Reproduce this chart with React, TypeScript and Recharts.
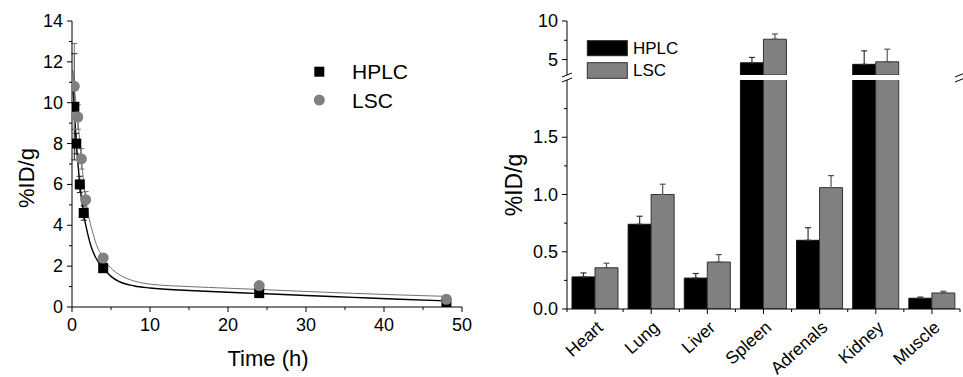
import React from 'react';
import { ComposedChart, BarChart, Bar, Line, Scatter, XAxis, YAxis, ErrorBar, Legend } from 'recharts';

const FONT = '"Liberation Sans", Arial, Helvetica, sans-serif';

// ---------- Left panel: blood clearance ----------
const hplcTime = [0.3, 0.55, 1, 1.5, 4, 24, 48];
const hplcValue = [9.8, 8.0, 6.0, 4.6, 1.9, 0.68, 0.15];
const hplcError = [2.6, 0.5, 0.4, 0.35, 0.2, 0.1, 0.08];
const lscTime = [0.3, 0.75, 1.2, 1.75, 4, 24, 48];
const lscValue = [10.8, 9.3, 7.25, 5.25, 2.4, 1.05, 0.38];
const lscError = [2.1, 0.6, 0.5, 0.4, 0.2, 0.12, 0.1];

const hplcFitTime = [0.1, 0.25, 0.5, 0.75, 1, 1.5, 2, 2.5, 3, 4, 5, 6, 8, 10, 15, 20, 24, 30, 36, 42, 48];
const hplcFitValue = [10.9, 10.0, 8.3, 7.1, 6.0, 4.55, 3.6, 2.9, 2.45, 1.9, 1.5, 1.25, 1.03, 0.93, 0.81, 0.72, 0.66, 0.56, 0.47, 0.38, 0.3];
const lscFitTime = [0.1, 0.3, 0.5, 0.75, 1, 1.2, 1.5, 1.75, 2, 2.7, 3, 4, 5, 6, 8, 10, 15, 20, 24, 30, 36, 42, 48];
const lscFitValue = [11.6, 10.8, 10.0, 9.2, 8.0, 7.25, 6.1, 5.3, 4.7, 3.6, 3.2, 2.4, 1.9, 1.6, 1.27, 1.12, 1.0, 0.92, 0.86, 0.76, 0.67, 0.59, 0.52];

const timeTicks = [0, 5, 10, 15, 20, 25, 30, 35, 40, 45, 50];
const pctTicks = [0, 1, 2, 3, 4, 5, 6, 7, 8, 9, 10, 11, 12, 13, 14];

// ---------- Right panel: biodistribution ----------
const organs = ['Heart', 'Lung', 'Liver', 'Spleen', 'Adrenals', 'Kidney', 'Muscle'];
const hplcOrgan = [0.28, 0.74, 0.27, 4.58, 0.6, 4.38, 0.094];
const hplcOrganErr = [0.035, 0.07, 0.04, 0.7, 0.11, 1.75, 0.01];
const lscOrgan = [0.36, 1.0, 0.41, 7.64, 1.06, 4.71, 0.14];
const lscOrganErr = [0.04, 0.09, 0.065, 0.68, 0.105, 1.64, 0.015];
const lowerTicks = [0, 0.25, 0.5, 0.75, 1, 1.25, 1.5, 1.75];
const upperTicks = [5, 7.5, 10];
const LOWER_MAX = 2;
const UPPER_MIN = 3;
const UPPER_MAX = 10;

const hplcPoints = hplcTime.map((t, i) => ({ t, v: hplcValue[i], e: hplcError[i] }));
const lscPoints = lscTime.map((t, i) => ({ t, v: lscValue[i], e: lscError[i] }));
const hplcFit = hplcFitTime.map((t, i) => ({ t, v: hplcFitValue[i] }));
const lscFit = lscFitTime.map((t, i) => ({ t, v: lscFitValue[i] }));

const lowerRows = organs.map((organ, i) => ({
  organ,
  hplc: hplcOrgan[i],
  lsc: lscOrgan[i],
  hplcErr: hplcOrgan[i] > LOWER_MAX ? undefined : [0, hplcOrganErr[i]],
  lscErr: lscOrgan[i] > LOWER_MAX ? undefined : [0, lscOrganErr[i]],
}));
const upperRows = organs.map((organ, i) => ({
  organ,
  hplc: hplcOrgan[i] > UPPER_MIN ? hplcOrgan[i] : null,
  lsc: lscOrgan[i] > UPPER_MIN ? lscOrgan[i] : null,
  hplcErr: hplcOrgan[i] > UPPER_MIN ? [0, hplcOrganErr[i]] : undefined,
  lscErr: lscOrgan[i] > UPPER_MIN ? [0, lscOrganErr[i]] : undefined,
}));

// layout constants (right panel)
const R_LEFT = 480;
const R_W = 483;
const R_PLOT_L = 87;
const R_PLOT_R = 480;
const BAND = (R_PLOT_R - R_PLOT_L) / organs.length;

type TickOpts = {
  side: 'bottom' | 'top' | 'left' | 'right';
  isMajor: (v: number) => boolean;
  fmt?: (v: number) => string;
  fontSize?: number;
  gap?: number;
};

const makeTick = (o: TickOpts) => (props: any) => {
  const { x, y, payload } = props;
  const v = payload.value as number;
  const major = o.isMajor(v);
  const L = major ? 5 : 3;
  let line: number[] = [];
  let label: any = null;
  if (o.side === 'bottom') {
    line = [x, y, x, y + L];
    if (major && o.fmt)
      label = (
        <text x={x} y={y + (o.gap || 18)} textAnchor="middle" dominantBaseline="central" fontSize={o.fontSize} fontFamily={FONT} fill="#000">
          {o.fmt(v)}
        </text>
      );
  } else if (o.side === 'top') {
    line = [x, y, x, y + L];
  } else if (o.side === 'left') {
    line = [x - L, y, x, y];
    if (major && o.fmt)
      label = (
        <text x={x - (o.gap || 9)} y={y} textAnchor="end" dominantBaseline="central" fontSize={o.fontSize} fontFamily={FONT} fill="#000">
          {o.fmt(v)}
        </text>
      );
  } else {
    line = [x - L, y, x, y];
  }
  return (
    <g>
      <line x1={line[0]} y1={line[1]} x2={line[2]} y2={line[3]} stroke="#000" strokeWidth={1} />
      {label}
    </g>
  );
};

const OrganTick = (props: any) => {
  const { x, y, payload, index, top } = props;
  const last = index === organs.length - 1;
  return (
    <g>
      <line x1={x} y1={y} x2={x} y2={y + 5} stroke="#000" />
      <line x1={x - BAND / 2} y1={y} x2={x - BAND / 2} y2={y + 3} stroke="#000" />
      {last && <line x1={x + BAND / 2} y1={y} x2={x + BAND / 2} y2={y + 3} stroke="#000" />}
      {!top && (
        <text
          transform={`translate(${x + 9},${y + 20}) rotate(-42)`}
          textAnchor="end"
          fontSize={17.5}
          fontFamily={FONT}
          fill="#000"
        >
          {payload.value}
        </text>
      )}
    </g>
  );
};

const isEven = (v: number) => v % 2 === 0;
const isTen = (v: number) => v % 10 === 0;
const isHalf = (v: number) => Math.abs(v * 2 - Math.round(v * 2)) < 1e-9;
const isFive = (v: number) => v % 5 === 0;

const LeftYTitle = () => (
  <text transform="translate(26,178) rotate(-90)" textAnchor="middle" dominantBaseline="central" fontSize={22} fontFamily={FONT} fill="#000">
    %ID/g
  </text>
);
const TimeTitle = () => (
  <text x={268} y={366} textAnchor="middle" fontSize={22} fontFamily={FONT} fill="#000">
    Time (h)
  </text>
);
const RightYTitle = () => (
  <text transform="translate(34,185) rotate(-90)" textAnchor="middle" dominantBaseline="central" fontSize={23} fontFamily={FONT} fill="#000">
    %ID/g
  </text>
);

const LeftLegend = () => (
  <svg width={130} height={56} style={{ display: 'block' }}>
    <rect x={6.3} y={8.7} width={10} height={10} fill="#000" />
    <circle cx={11.3} cy={42} r={5.5} fill="#808080" />
    <text x={44} y={13.7} dominantBaseline="central" fontSize={21} fontFamily={FONT} fill="#000">HPLC</text>
    <text x={44} y={42} dominantBaseline="central" fontSize={21} fontFamily={FONT} fill="#000">LSC</text>
  </svg>
);

const RightLegend = () => (
  <svg width={110} height={46} style={{ display: 'block' }}>
    <rect x={7.3} y={4.7} width={40} height={15} fill="#000" stroke="#222" />
    <rect x={7.3} y={26.7} width={40} height={15.6} fill="#808080" stroke="#333" />
    <text x={53} y={12.3} dominantBaseline="central" fontSize={17} fontFamily={FONT} fill="#000">HPLC</text>
    <text x={53} y={34.5} dominantBaseline="central" fontSize={17} fontFamily={FONT} fill="#000">LSC</text>
  </svg>
);

const squareShape = (p: any) => <rect x={p.cx - 5} y={p.cy - 5} width={10} height={10} fill="#000" />;
const circleShape = (p: any) => <circle cx={p.cx} cy={p.cy} r={5.5} fill="#808080" />;

export default function App() {
  return (
    <div style={{ position: 'fixed', left: 0, top: 0, width: 963, height: 377, background: '#fff', fontFamily: FONT }}>
      {/* Left panel */}
      <div style={{ position: 'absolute', left: 0, top: 0 }}>
        <ComposedChart width={480} height={377} margin={{ top: 21, right: 18, bottom: 20, left: 12 }}>
          <XAxis
            type="number"
            dataKey="t"
            domain={[0, 50]}
            ticks={timeTicks}
            interval={0}
            allowDataOverflow
            tickSize={0}
            tickMargin={0}
            tickLine={false}
            height={50}
            axisLine={{ stroke: '#000' }}
            tick={makeTick({ side: 'bottom', isMajor: isTen, fmt: (v) => String(v), fontSize: 18, gap: 18 })}
            label={<TimeTitle />}
          />
          <XAxis
            xAxisId="top"
            orientation="top"
            type="number"
            dataKey="t"
            domain={[0, 50]}
            ticks={timeTicks}
            interval={0}
            allowDataOverflow
            tickSize={0}
            tickMargin={0}
            tickLine={false}
            height={0}
            axisLine={{ stroke: '#000' }}
            tick={makeTick({ side: 'top', isMajor: isTen })}
          />
          <YAxis
            type="number"
            domain={[0, 14]}
            ticks={pctTicks}
            interval={0}
            allowDataOverflow
            tickSize={0}
            tickMargin={0}
            tickLine={false}
            width={60}
            axisLine={{ stroke: '#000' }}
            tick={makeTick({ side: 'left', isMajor: isEven, fmt: (v) => String(v), fontSize: 18, gap: 9 })}
            label={<LeftYTitle />}
          />
          <YAxis
            yAxisId="right"
            orientation="right"
            type="number"
            domain={[0, 14]}
            ticks={pctTicks}
            interval={0}
            allowDataOverflow
            tickSize={0}
            tickMargin={0}
            tickLine={false}
            width={0}
            axisLine={{ stroke: '#000' }}
            tick={makeTick({ side: 'right', isMajor: isEven })}
          />
          <Line data={lscFit} dataKey="v" type="monotone" stroke="#707070" strokeWidth={1} dot={false} isAnimationActive={false} />
          <Line data={hplcFit} dataKey="v" type="monotone" stroke="#000" strokeWidth={1.4} dot={false} isAnimationActive={false} />
          <Scatter data={hplcPoints} dataKey="v" shape={squareShape} isAnimationActive={false}>
            <ErrorBar dataKey="e" direction="y" width={3} stroke="#222" strokeWidth={1} />
          </Scatter>
          <Scatter data={lscPoints} dataKey="v" shape={circleShape} isAnimationActive={false}>
            <ErrorBar dataKey="e" direction="y" width={3} stroke="#777" strokeWidth={1} />
          </Scatter>
          <Legend
            layout="vertical"
            align="center"
            verticalAlign="middle"
            content={() => <LeftLegend />}
            wrapperStyle={{ position: 'absolute', left: 308, top: 58, width: 130, height: 56 }}
          />
        </ComposedChart>
      </div>

      {/* Right panel, upper segment (3 - 10) */}
      <div style={{ position: 'absolute', left: R_LEFT, top: 0 }}>
        <BarChart width={R_W} height={80} data={upperRows} margin={{ top: 21, right: R_W - R_PLOT_R, bottom: 5, left: R_PLOT_L - 60 }} barSize={23} barGap={0}>
          <XAxis
            dataKey="organ"
            orientation="top"
            interval={0}
            tickSize={0}
            tickMargin={0}
            tickLine={false}
            height={0}
            axisLine={{ stroke: '#000' }}
            tick={(p: any) => <OrganTick {...p} top />}
          />
          <YAxis
            type="number"
            domain={[UPPER_MIN, UPPER_MAX]}
            ticks={upperTicks}
            interval={0}
            allowDataOverflow
            tickSize={0}
            tickMargin={0}
            tickLine={false}
            width={60}
            axisLine={{ stroke: '#000' }}
            tick={makeTick({ side: 'left', isMajor: isFive, fmt: (v) => String(v), fontSize: 18, gap: 9 })}
          />
          <YAxis
            yAxisId="r"
            orientation="right"
            type="number"
            domain={[UPPER_MIN, UPPER_MAX]}
            ticks={upperTicks}
            interval={0}
            allowDataOverflow
            tickSize={0}
            tickMargin={0}
            tickLine={false}
            width={0}
            axisLine={{ stroke: '#000' }}
            tick={makeTick({ side: 'right', isMajor: isFive })}
          />
          <Bar dataKey="hplc" fill="#000" stroke="#111" strokeWidth={1} isAnimationActive={false}>
            <ErrorBar dataKey="hplcErr" direction="y" width={3} stroke="#333" strokeWidth={1.2} />
          </Bar>
          <Bar dataKey="lsc" fill="#808080" stroke="#333" strokeWidth={1} isAnimationActive={false}>
            <ErrorBar dataKey="lscErr" direction="y" width={3} stroke="#555" strokeWidth={1.2} />
          </Bar>
        </BarChart>
      </div>

      {/* Right panel, lower segment (0 - 2) */}
      <div style={{ position: 'absolute', left: R_LEFT, top: 0 }}>
        <BarChart width={R_W} height={377} data={lowerRows} margin={{ top: 80, right: R_W - R_PLOT_R, bottom: 18, left: R_PLOT_L - 60 }} barSize={23} barGap={0}>
          <XAxis
            dataKey="organ"
            interval={0}
            tickSize={0}
            tickMargin={0}
            tickLine={false}
            height={50}
            axisLine={{ stroke: '#000' }}
            tick={(p: any) => <OrganTick {...p} />}
          />
          <YAxis
            type="number"
            domain={[0, LOWER_MAX]}
            ticks={lowerTicks}
            interval={0}
            allowDataOverflow
            tickSize={0}
            tickMargin={0}
            tickLine={false}
            width={60}
            axisLine={{ stroke: '#000' }}
            tick={makeTick({ side: 'left', isMajor: isHalf, fmt: (v) => v.toFixed(1), fontSize: 18, gap: 9 })}
            label={<RightYTitle />}
          />
          <YAxis
            yAxisId="r"
            orientation="right"
            type="number"
            domain={[0, LOWER_MAX]}
            ticks={lowerTicks}
            interval={0}
            allowDataOverflow
            tickSize={0}
            tickMargin={0}
            tickLine={false}
            width={0}
            axisLine={{ stroke: '#000' }}
            tick={makeTick({ side: 'right', isMajor: isHalf })}
          />
          <Bar dataKey="hplc" fill="#000" stroke="#111" strokeWidth={1} isAnimationActive={false}>
            <ErrorBar dataKey="hplcErr" direction="y" width={3} stroke="#333" strokeWidth={1.2} />
          </Bar>
          <Bar dataKey="lsc" fill="#808080" stroke="#333" strokeWidth={1} isAnimationActive={false}>
            <ErrorBar dataKey="lscErr" direction="y" width={3} stroke="#555" strokeWidth={1.2} />
          </Bar>
          <Legend
            layout="vertical"
            align="center"
            verticalAlign="middle"
            content={() => <RightLegend />}
            wrapperStyle={{ position: 'absolute', left: 100, top: 36, width: 110, height: 46 }}
          />
        </BarChart>
      </div>

      {/* axis-break marks */}
      <svg width={963} height={377} style={{ position: 'absolute', left: 0, top: 0, pointerEvents: 'none' }}>
        {[R_LEFT + R_PLOT_L, R_LEFT + R_PLOT_R].map((ax) => (
          <g key={ax}>
            <line x1={ax - 5} y1={77} x2={ax + 5} y2={73} stroke="#000" strokeWidth={1} />
            <line x1={ax - 5} y1={82} x2={ax + 5} y2={78} stroke="#000" strokeWidth={1} />
          </g>
        ))}
      </svg>
    </div>
  );
}
